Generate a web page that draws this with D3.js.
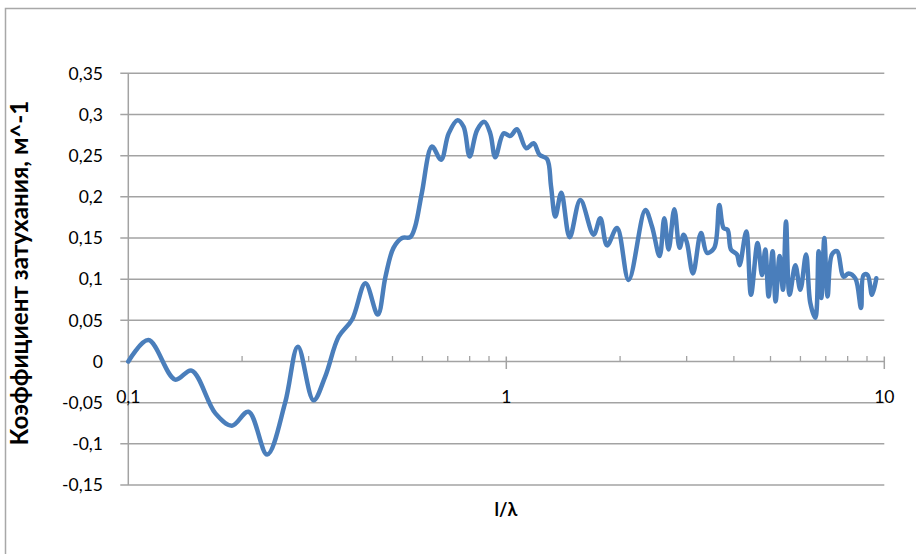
<!DOCTYPE html>
<html>
<head>
<meta charset="utf-8">
<script src="https://cdn.jsdelivr.net/npm/d3@7"></script>
<style>
  html, body { margin: 0; padding: 0; background: #fff; }
  svg { display: block; }
  text { font-family: Lato, "Open Sans", sans-serif; fill: #000; }
</style>
</head>
<body>
<svg id="chart" width="916" height="554"></svg>
<script>
// ---- data ----
const xValues = [0.100, 0.113, 0.133, 0.147, 0.170, 0.188, 0.208, 0.233, 0.260, 0.281,
  0.309, 0.332, 0.360, 0.391, 0.424, 0.457, 0.479, 0.503, 0.530, 0.557,
  0.574, 0.598, 0.636, 0.672, 0.704, 0.743, 0.771, 0.800, 0.837, 0.875,
  0.907, 0.935, 0.984, 1.025, 1.067, 1.129, 1.181, 1.225, 1.282, 1.313,
  1.348, 1.398, 1.471, 1.570, 1.702, 1.773, 1.847, 1.963, 2.107, 2.332,
  2.429, 2.544, 2.618, 2.688, 2.783, 2.874, 2.944, 3.006, 3.118, 3.274,
  3.396, 3.550, 3.660, 3.757, 3.849, 3.930, 4.076, 4.142, 4.314, 4.439,
  4.622, 4.748, 4.844, 4.942, 5.064, 5.157, 5.284, 5.395, 5.495, 5.617,
  5.816, 5.996, 6.208, 6.372, 6.570, 6.703, 6.814, 6.940, 7.079, 7.271,
  7.497, 7.804, 8.047, 8.382, 8.678, 8.815, 9.032, 9.279, 9.524];
const yValues = [0.000, 0.026, -0.022, -0.011, -0.063, -0.078, -0.061, -0.113, -0.050, 0.018,
  -0.047, -0.018, 0.030, 0.051, 0.095, 0.057, 0.103, 0.138, 0.150, 0.151,
  0.164, 0.205, 0.261, 0.245, 0.277, 0.293, 0.285, 0.249, 0.281, 0.291,
  0.277, 0.248, 0.277, 0.274, 0.282, 0.259, 0.265, 0.251, 0.246, 0.213,
  0.176, 0.205, 0.151, 0.196, 0.154, 0.174, 0.141, 0.162, 0.099, 0.184,
  0.164, 0.128, 0.174, 0.136, 0.185, 0.138, 0.154, 0.144, 0.107, 0.156,
  0.132, 0.138, 0.190, 0.162, 0.160, 0.136, 0.130, 0.117, 0.158, 0.081,
  0.144, 0.105, 0.136, 0.079, 0.134, 0.073, 0.128, 0.087, 0.170, 0.081,
  0.117, 0.087, 0.130, 0.071, 0.053, 0.134, 0.077, 0.150, 0.079, 0.130,
  0.134, 0.103, 0.107, 0.101, 0.065, 0.105, 0.105, 0.081, 0.101];
const yTicks = [-0.15, -0.1, -0.05, 0, 0.05, 0.1, 0.15, 0.2, 0.25, 0.3, 0.35];
const xTickLabels = [0.1, 1, 10];
const yTitle = "Коэффициент затухания, м^-1";
const xTitle = "l/λ";

// ---- layout ----
const svg = d3.select("#chart");
const plotLeft = 128.3, plotRight = 884.3, plotTop = 73.3, plotBottom = 485;
const gridColor = "#a3a3a3";

const x = d3.scaleLog().domain([0.1, 10]).range([plotLeft, plotRight]);
const y = d3.scaleLinear().domain([-0.15, 0.35]).range([plotBottom, plotTop]);
const fmt = v => String(v).replace(".", ",");

// outer frame
svg.append("rect").attr("x", 5.5).attr("y", 8.5).attr("width", 1000).attr("height", 1000)
  .attr("fill", "none").attr("stroke", "#a8a8a8").attr("stroke-width", 1.5);

// horizontal gridlines (with outside ticks to the left)
svg.append("g").selectAll("line").data(yTicks).join("line")
  .attr("x1", plotLeft - 8).attr("x2", plotRight)
  .attr("y1", d => y(d)).attr("y2", d => y(d))
  .attr("stroke", gridColor).attr("stroke-width", 1.5);

// y axis line
svg.append("line").attr("x1", plotLeft).attr("x2", plotLeft).attr("y1", plotTop).attr("y2", plotBottom)
  .attr("stroke", gridColor).attr("stroke-width", 1.5);

// y tick labels
svg.append("g").selectAll("text").data(yTicks).join("text")
  .attr("x", 103).attr("y", d => y(d)).attr("dy", "0.36em")
  .attr("text-anchor", "end").attr("font-size", 17.5)
  .text(d => fmt(d));

// x axis at y=0: minor and major ticks
const y0 = y(0);
const allXTicks = x.ticks();
const isMajor = v => Math.abs(Math.log10(v) - Math.round(Math.log10(v))) < 1e-9;
svg.append("g").selectAll("line").data(allXTicks.filter(v => !isMajor(v))).join("line")
  .attr("x1", d => x(d)).attr("x2", d => x(d))
  .attr("y1", y0 - 5.5).attr("y2", y0)
  .attr("stroke", gridColor).attr("stroke-width", 1.3);
svg.append("g").selectAll("line").data(allXTicks.filter(v => isMajor(v) && v > 0.1)).join("line")
  .attr("x1", d => x(d)).attr("x2", d => x(d))
  .attr("y1", y0 - 5).attr("y2", y0 + 7.5)
  .attr("stroke", gridColor).attr("stroke-width", 1.5);

// x tick labels
svg.append("g").selectAll("text").data(xTickLabels).join("text")
  .attr("x", d => x(d)).attr("y", 403)
  .attr("text-anchor", "middle").attr("font-size", 17.5)
  .text(d => fmt(d));

// data line
const pts = xValues.map((v, i) => [v, yValues[i]]);
svg.append("path").datum(pts)
  .attr("fill", "none").attr("stroke", "#4a7ebb").attr("stroke-width", 4.5)
  .attr("stroke-linejoin", "round").attr("stroke-linecap", "round")
  .attr("d", d3.line().x(d => x(d[0])).y(d => y(d[1])).curve(d3.curveCatmullRom.alpha(0.5)));

// axis titles
const yt = svg.append("text")
  .attr("transform", "translate(28,273) rotate(-90)")
  .attr("text-anchor", "middle").attr("font-size", 18).attr("font-weight", "bold")
  .text(yTitle);
const len = yt.node().getComputedTextLength();
if (len > 0) yt.attr("font-size", 18 * 345 / len);

svg.append("text").attr("x", 506).attr("y", 516)
  .attr("text-anchor", "middle").attr("font-size", 18).attr("font-weight", "bold")
  .text(xTitle);
</script>
</body>
</html>
